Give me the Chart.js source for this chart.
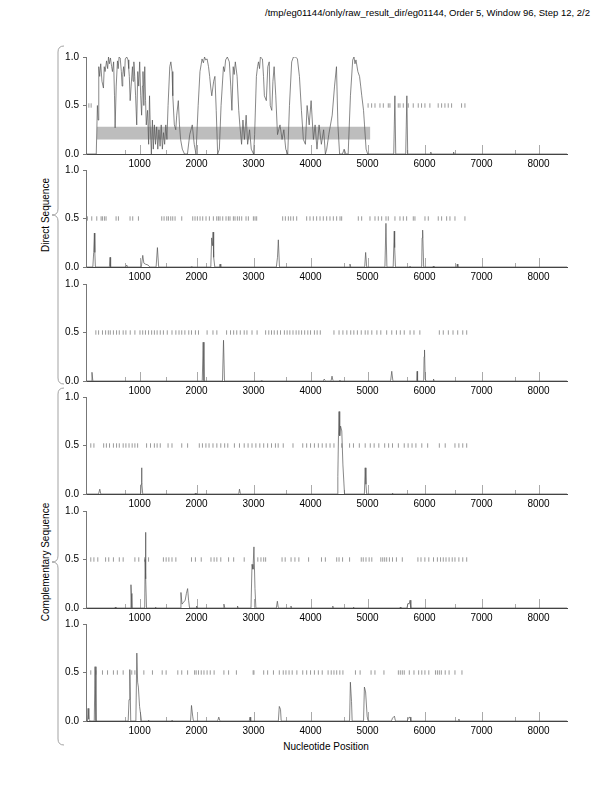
<!DOCTYPE html>
<html>
<head>
<meta charset="utf-8">
<script src="https://cdn.jsdelivr.net/npm/chart.js@4/dist/chart.umd.min.js"></script>
<style>
  body { margin: 0; background: #fff; }
  #page { position: relative; width: 612px; height: 792px; overflow: hidden; }
  canvas.panel { position: absolute; left: 0; }
  svg { position: absolute; left: 0; top: 0; }
</style>
</head>
<body>
<div id="page">
  <svg width="612" height="792" font-family="Liberation Sans, Arial, sans-serif">
    <text x="590" y="16" font-size="9.5" text-anchor="end" fill="#000">/tmp/eg01144/only/raw_result_dir/eg01144, Order 5, Window 96, Step 12, 2/2</text>
    <path d="M64,46 Q58,46 58,52 L58,209 Q58,215 52,215 Q58,215 58,221 L58,378 Q58,384 64,384" fill="none" stroke="#999" stroke-width="0.9"/>
    <path d="M64,388 Q58,388 58,394 L58,556 Q58,562 52,562 Q58,562 58,568 L58,739 Q58,745 64,745" fill="none" stroke="#999" stroke-width="0.9"/>
    <text transform="translate(49,215) rotate(-90)" font-size="10" text-anchor="middle" fill="#000">Direct Sequence</text>
    <text transform="translate(49,562) rotate(-90)" font-size="10" text-anchor="middle" fill="#000">Complementary Sequence</text>
    <text x="326" y="750" font-size="10" text-anchor="middle" fill="#000">Nucleotide Position</text>
  </svg>
</div>
<script>
// axis values
const xMin = 60, xMax = 8500;
const xTickValues = [1000, 2000, 3000, 4000, 5000, 6000, 7000, 8000];
const xMinorTicks = [747, 1466, 2164, 3575, 4582, 5699, 6534, 7596];
const yTickValues = [0, 0.5, 1.0];

// predicted gene (grey bar, frame 1)
const geneStart = 250, geneEnd = 5050, geneLow = 0.15, geneHigh = 0.28;

// coding potential, [position, value]
const direct1 = [[60,0],[240,0],[260,0.5],[272,0.35],[284,0.9],[300,0.8],[318,0.93],[340,0.75],[366,0.68],[380,0.9],[395,0.85],[421,0.96],[440,0.88],[455,1.0],[470,0.93],[489,0.99],[510,0.9],[524,0.85],[545,0.95],[560,0.6],[571,0.27],[590,0.7],[612,0.96],[625,0.88],[640,1.0],[660,0.99],[680,0.85],[694,0.7],[705,0.82],[720,0.9],[735,0.8],[749,0.98],[775,1.0],[797,0.97],[810,0.88],[820,0.8],[835,0.55],[852,0.7],[875,0.9],[885,0.75],[900,0.95],[915,0.8],[930,0.6],[950,0.3],[968,0.85],[985,0.7],[1002,0.95],[1020,0.6],[1036,0.4],[1050,0.7],[1060,0.85],[1075,0.5],[1091,0.9],[1105,0.55],[1118,0.3],[1140,0.45],[1159,0.1],[1175,0.6],[1187,0.3],[1207,0.0],[1225,0.35],[1241,0.05],[1260,0.3],[1280,0.1],[1300,0.28],[1320,0.05],[1340,0.25],[1360,0.08],[1380,0.3],[1400,0.05],[1420,0.22],[1440,0.1],[1460,0.3],[1480,0.15],[1500,0.5],[1530,0.9],[1549,0.95],[1570,0.85],[1583,0.6],[1610,0.3],[1635,0.25],[1652,0.4],[1680,0.55],[1700,0.3],[1720,0.15],[1750,0.05],[1788,0.0],[1840,0.0],[1880,0.2],[1925,0.3],[1959,0.1],[1990,0.0],[2028,0.5],[2060,0.85],[2080,0.92],[2096,0.98],[2120,0.94],[2140,1.0],[2160,0.97],[2185,0.98],[2210,0.9],[2230,0.8],[2250,0.68],[2267,0.6],[2300,0.75],[2322,0.8],[2345,0.45],[2370,0.0],[2400,0.05],[2430,0.5],[2472,0.9],[2490,0.85],[2510,0.97],[2540,1.0],[2575,0.95],[2600,0.7],[2620,0.45],[2643,0.9],[2660,0.82],[2680,0.95],[2711,0.8],[2740,0.45],[2759,0.3],[2790,0.1],[2814,0.35],[2840,0.15],[2870,0.4],[2896,0.1],[2930,0.25],[2960,0.05],[3000,0.0],[3019,0.2],[3050,0.8],[3070,0.9],[3087,0.95],[3105,0.88],[3120,1.0],[3156,0.98],[3175,0.8],[3190,0.6],[3224,0.55],[3250,0.9],[3275,0.95],[3293,0.5],[3320,0.45],[3340,0.75],[3361,0.9],[3390,0.6],[3420,0.2],[3464,0.3],[3500,0.15],[3532,0.25],[3565,0.05],[3600,0.0],[3630,0.5],[3669,0.95],[3700,1.0],[3737,1.0],[3770,0.98],[3805,0.8],[3840,0.45],[3874,0.15],[3910,0.1],[3940,0.5],[3976,0.3],[4010,0.55],[4050,0.15],[4080,0.3],[4113,0.05],[4150,0.3],[4190,0.1],[4230,0.25],[4260,0.0],[4284,0.05],[4320,0.2],[4380,0.4],[4421,0.7],[4455,0.9],[4480,0.3],[4510,0.0],[4560,0.0],[4590,0.05],[4620,0.0],[4660,0.0],[4700,0.6],[4740,0.97],[4762,1.0],[4780,0.93],[4797,0.97],[4830,0.85],[4860,0.8],[4880,0.7],[4899,0.6],[4930,0.45],[4947,0.3],[4975,0.05],[5002,0.0],[5460,0],[5480,0.6],[5495,0],[5670,0],[5690,0.6],[5705,0],[6100,0],[6110,0.02],[6120,0],[6500,0],[6510,0.02],[6520,0],[8500,0]];
const direct2 = [[60,0],[180,0],[195,0.15],[207,0.35],[215,0.15],[225,0],[470,0],[482,0.1],[492,0],[760,0],[775,0.02],[790,0],[1030,0],[1056,0.12],[1075,0.04],[1100,0.03],[1150,0.02],[1180,0],[1290,0],[1313,0.2],[1335,0],[1900,0],[1915,0.01],[1930,0],[2250,0],[2265,0.3],[2280,0.22],[2290,0.36],[2300,0.1],[2320,0],[2400,0],[2412,0.03],[2425,0],[3400,0],[3420,0.1],[3435,0.28],[3455,0],[4680,0],[4692,0.03],[4705,0],[4950,0],[4967,0.15],[4985,0],[5305,0],[5323,0.45],[5340,0],[5450,0],[5469,0.37],[5476,0.2],[5490,0],[5735,0],[5744,0.01],[5755,0],[5950,0],[5958,0.3],[5967,0.38],[5985,0],[6145,0],[6154,0.01],[6165,0],[6565,0],[6574,0.03],[6585,0],[8500,0]];
const direct3 = [[60,0],[150,0],[165,0.09],[180,0],[2100,0],[2116,0.4],[2130,0],[2455,0],[2473,0.42],[2490,0],[3130,0],[3144,0.01],[3160,0],[4225,0],[4240,0.02],[4260,0],[4360,0],[4377,0.05],[4395,0],[4505,0],[4514,0.01],[4525,0],[5405,0],[5425,0.1],[5445,0],[5862,0],[5870,0.1],[5878,0],[5985,0],[5993,0.25],[6000,0.32],[6012,0.02],[6030,0],[6150,0],[6158,0.02],[6170,0],[8500,0]];
const compl1 = [[60,0],[280,0],[302,0.05],[320,0],[1020,0],[1028,0.1],[1034,0.27],[1042,0.12],[1055,0],[1970,0],[1980,0.01],[1990,0],[2740,0],[2753,0.05],[2770,0],[4465,0],[4479,0.18],[4490,0.6],[4500,0.85],[4512,0.6],[4527,0.7],[4548,0.65],[4568,0.3],[4596,0],[4945,0],[4959,0.27],[4972,0.1],[4985,0],[5430,0],[5438,0.01],[5450,0],[8500,0]];
const compl2 = [[60,0],[565,0],[575,0.01],[585,0],[835,0],[849,0.24],[856,0.15],[865,0],[1090,0],[1098,0.5],[1103,0.78],[1112,0.3],[1122,0],[1275,0],[1281,0.01],[1290,0],[1715,0],[1726,0.16],[1745,0.04],[1774,0.06],[1800,0.08],[1822,0.15],[1843,0.2],[1860,0.08],[1877,0],[1992,0],[2000,0.02],[2010,0],[2465,0],[2480,0.04],[2495,0],[2710,0],[2719,0.02],[2730,0],[2955,0],[2973,0.45],[2990,0.4],[3007,0.63],[3025,0.2],[3041,0],[3400,0],[3418,0.07],[3435,0],[3650,0],[3657,0.02],[3665,0],[4380,0],[4390,0.02],[4400,0],[4745,0],[4753,0.01],[4760,0],[5565,0],[5575,0.01],[5585,0],[5690,0],[5712,0.05],[5730,0.04],[5746,0.08],[5760,0],[8500,0]];
const compl3 = [[60,0],[85,0],[96,0.13],[110,0.02],[130,0],[205,0],[219,0.56],[235,0],[800,0],[815,0.22],[829,0.53],[845,0],[935,0],[952,0.7],[966,0.4],[979,0.35],[1000,0.15],[1034,0],[1150,0],[1158,0.01],[1166,0],[1560,0],[1569,0.01],[1580,0],[1895,0],[1911,0.16],[1932,0.05],[1945,0],[2370,0],[2390,0.04],[2410,0],[2925,0],[2938,0.04],[2950,0],[3435,0],[3452,0.15],[3473,0.12],[3485,0],[4685,0],[4699,0.4],[4719,0.2],[4730,0],[4930,0],[4945,0.35],[4966,0.3],[4993,0.05],[5010,0],[5420,0],[5438,0.03],[5472,0.05],[5490,0],[5700,0],[5712,0.03],[5746,0.04],[5760,0],[6595,0],[6603,0.02],[6612,0],[8500,0]];

// stop codon positions (drawn at 0.5)
const stops1 = [110, 150, 5010, 5072, 5131, 5218, 5277, 5364, 5393, 5539, 5569, 5627, 5715, 5802, 5890, 5948, 6007, 6094, 6240, 6300, 6358, 6416, 6475, 6650, 6709];
const stops2 = [85, 161, 249, 325, 348, 383, 412, 588, 629, 833, 880, 980, 1389, 1430, 1477, 1506, 1547, 1582, 1623, 1740, 1933, 1973, 2014, 2061, 2108, 2166, 2225, 2295, 2354, 2383, 2412, 2459, 2517, 2558, 2587, 2646, 2675, 2716, 2751, 2792, 2868, 2909, 2997, 3026, 3055, 3511, 3558, 3611, 3652, 3698, 3757, 3932, 3990, 4049, 4107, 4166, 4224, 4283, 4341, 4400, 4458, 4517, 4546, 4838, 4897, 5043, 5131, 5189, 5248, 5324, 5364, 5481, 5569, 5628, 5686, 5803, 5832, 6008, 6066, 6241, 6300, 6388, 6446, 6534, 6709];
const stops3 = [233, 281, 349, 404, 452, 486, 541, 596, 644, 712, 760, 836, 918, 1007, 1055, 1103, 1158, 1212, 1260, 1308, 1363, 1418, 1486, 1569, 1637, 1692, 1740, 1795, 1863, 1911, 1980, 2034, 2185, 2288, 2356, 2527, 2596, 2651, 2705, 2767, 2836, 2884, 2973, 3062, 3212, 3267, 3315, 3363, 3418, 3473, 3541, 3589, 3637, 3692, 3747, 3795, 3843, 3897, 3952, 4000, 4068, 4116, 4171, 4411, 4500, 4568, 4637, 4705, 4760, 4822, 4890, 4959, 5007, 5075, 5164, 5233, 5336, 5425, 5507, 5575, 5644, 5746, 5815, 5918, 6260, 6329, 6418, 6500, 6582, 6671, 6740];
const stops4 = [144, 199, 370, 418, 473, 541, 596, 644, 712, 760, 815, 870, 918, 966, 1123, 1192, 1260, 1308, 1363, 1500, 1569, 1740, 1843, 2048, 2103, 2164, 2219, 2288, 2356, 2425, 2493, 2548, 2664, 2753, 2836, 2904, 2973, 3041, 3110, 3178, 3247, 3315, 3384, 3432, 3521, 3692, 3863, 3932, 4000, 4068, 4137, 4205, 4274, 4342, 4411, 4548, 4685, 4753, 4856, 4959, 5048, 5116, 5198, 5301, 5370, 5438, 5541, 5644, 5712, 5781, 5849, 5952, 6055, 6260, 6363, 6534, 6603, 6671, 6740];
const stops5 = [144, 199, 267, 404, 459, 541, 644, 712, 918, 986, 1089, 1158, 1418, 1466, 1514, 1569, 1637, 1911, 1980, 2082, 2253, 2308, 2356, 2425, 2562, 2651, 2836, 3075, 3130, 3178, 3212, 3500, 3555, 3658, 3726, 3795, 3966, 4192, 4260, 4459, 4500, 4562, 4685, 4890, 4925, 4973, 5028, 5075, 5233, 5267, 5301, 5336, 5384, 5438, 5507, 5610, 5884, 5938, 6006, 6075, 6158, 6226, 6281, 6329, 6377, 6431, 6486, 6534, 6603, 6671, 6740];
const stops6 = [144, 233, 349, 438, 541, 610, 712, 863, 918, 1075, 1226, 1397, 1466, 1671, 1740, 1843, 1966, 1993, 2034, 2082, 2130, 2185, 2240, 2308, 2480, 2562, 2699, 2993, 3007, 3178, 3247, 3349, 3452, 3521, 3568, 3623, 3678, 3760, 3863, 3932, 4000, 4068, 4137, 4205, 4308, 4363, 4411, 4459, 4514, 4568, 4788, 4870, 5062, 5130, 5288, 5541, 5575, 5610, 5644, 5733, 5815, 5897, 5952, 6007, 6075, 6192, 6226, 6260, 6295, 6363, 6431, 6534, 6657];

const panels = [
    { curve: direct1, stops: stops1, gene: true },
    { curve: direct2, stops: stops2 },
    { curve: direct3, stops: stops3 },
    { curve: compl1, stops: stops4 },
    { curve: compl2, stops: stops5 },
    { curve: compl3, stops: stops6 }
];

const FONT = "'Liberation Sans', Arial, sans-serif";

// short upward ticks drawn inside the plot from the x axis
const innerTicks = {
    id: 'innerTicks',
    beforeDatasetsDraw(chart) {
        const ctx = chart.ctx, xs = chart.scales.x, bottom = chart.chartArea.bottom;
        ctx.save();
        ctx.strokeStyle = '#aaa';
        ctx.lineWidth = 1;
        xTickValues.forEach(function (v) {
            const px = Math.round(xs.getPixelForValue(v)) + 0.5;
            ctx.beginPath(); ctx.moveTo(px, bottom); ctx.lineTo(px, bottom - 9); ctx.stroke();
        });
        xMinorTicks.forEach(function (v) {
            const px = Math.round(xs.getPixelForValue(v)) + 0.5;
            ctx.beginPath(); ctx.moveTo(px, bottom); ctx.lineTo(px, bottom - 4); ctx.stroke();
        });
        ctx.restore();
    }
};

function buildPanel(p, idx) {
    const cv = document.createElement('canvas');
    cv.className = 'panel';
    cv.width = 612;
    cv.height = 125;
    cv.style.top = (47 + idx * 113.4) + 'px';
    document.getElementById('page').appendChild(cv);

    const datasets = [{
        type: 'scatter',
        data: p.curve.map(function (d) { return { x: d[0], y: d[1] }; }),
        showLine: true,
        borderColor: '#555',
        borderWidth: 0.7,
        pointRadius: 0,
        tension: 0,
        order: 0
    }, {
        type: 'scatter',
        data: p.stops.map(function (s) { return { x: s, y: 0.5 }; }),
        pointStyle: 'line',
        rotation: 90,
        pointRadius: 2.2,
        borderColor: '#9a9a9a',
        borderWidth: 1,
        order: 1
    }];
    if (p.gene) {
        datasets.push({
            type: 'line',
            data: [{ x: geneStart, y: geneHigh }, { x: geneEnd, y: geneHigh }],
            borderWidth: 0, pointRadius: 0,
            backgroundColor: '#bdbdbd',
            fill: '+1',
            order: 3
        }, {
            type: 'line',
            data: [{ x: geneStart, y: geneLow }, { x: geneEnd, y: geneLow }],
            borderWidth: 0, pointRadius: 0,
            order: 4
        });
    }

    new Chart(cv, {
        type: 'scatter',
        data: { datasets: datasets },
        options: {
            responsive: false,
            animation: false,
            events: [],
            layout: { padding: { top: 8, right: 45, bottom: 0, left: 0 } },
            plugins: { legend: { display: false }, tooltip: { enabled: false } },
            scales: {
                x: {
                    type: 'linear',
                    min: xMin,
                    max: xMax,
                    afterBuildTicks: function (axis) {
                        axis.ticks = xTickValues.map(function (v) { return { value: v }; });
                    },
                    afterFit: function (axis) { axis.height = 18; },
                    grid: { display: true, drawOnChartArea: false, drawTicks: false },
                    border: { display: true, color: '#444', width: 1 },
                    ticks: {
                        color: '#000',
                        font: { family: FONT, size: 10 },
                        padding: 4,
                        maxRotation: 0,
                        callback: function (v) { return String(v); }
                    }
                },
                y: {
                    min: 0,
                    max: 1,
                    afterBuildTicks: function (axis) {
                        axis.ticks = yTickValues.map(function (v) { return { value: v }; });
                    },
                    afterFit: function (axis) { axis.width = 86; },
                    grid: { display: true, drawOnChartArea: false, tickLength: 3, color: '#777' },
                    border: { display: true, color: '#777', width: 1 },
                    ticks: {
                        color: '#000',
                        font: { family: FONT, size: 10 },
                        padding: 4,
                        callback: function (v) { return Number(v).toFixed(1); }
                    }
                }
            }
        },
        plugins: [innerTicks]
    });
}

panels.forEach(buildPanel);
</script>
</body>
</html>
